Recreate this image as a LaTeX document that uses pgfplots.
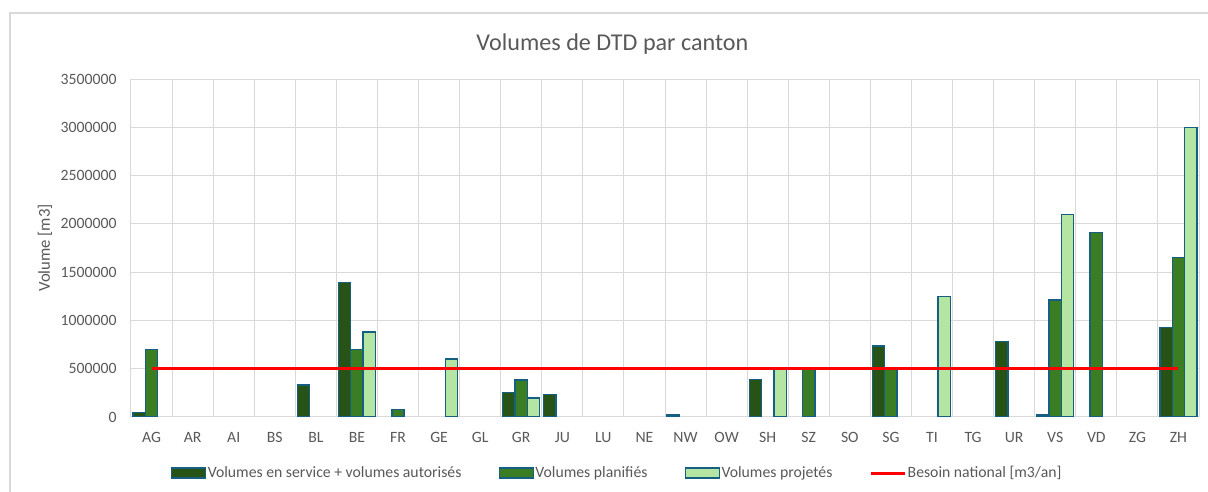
\documentclass[border=0pt]{standalone}
\usepackage{pgfplots}
\pgfplotsset{compat=1.18}
\usepackage{fontspec}
\setmainfont{Carlito}
\definecolor{cdark}{HTML}{275317}
\definecolor{cmed}{HTML}{3B7D23}
\definecolor{clight}{HTML}{B4E5A2}
\definecolor{cedge}{HTML}{156082}
\definecolor{gridc}{HTML}{D9D9D9}
\definecolor{textc}{HTML}{595959}
\pgfplotsset{
  barlegend/.style={legend image code/.code={\draw[##1] (0pt,-3.75pt) rectangle (25.5pt,3.75pt);}},
  linelegend/.style={legend image code/.code={\draw[##1] (0pt,0pt) -- (25pt,0pt);}},
}
\begin{document}
\begin{tikzpicture}
\useasboundingbox (-98.25pt,-56.25pt) rectangle (807.75pt,312.75pt);
\fill[white] (-98.25pt,-56.25pt) rectangle (807.75pt,312.75pt);
\draw[gridc, line width=1pt] (-90.75pt,-70pt) -- (-90.75pt,303pt) -- (830pt,303pt);
\begin{axis}[
  at={(0,0)}, anchor=south west,
  scale only axis, width=801pt, height=253.5pt,
  xmin=-0.5, xmax=25.5, ymin=0, ymax=3500000,
  bar width=0.3,
  xtick={0,...,25},
  xticklabels={AG,AR,AI,BS,BL,BE,FR,GE,GL,GR,JU,LU,NE,NW,OW,SH,SZ,SO,SG,TI,TG,UR,VS,VD,ZG,ZH},
  minor xtick={-0.5,0.5,...,25.5},
  xminorgrids, ymajorgrids,
  major tick length=0pt, minor tick length=0pt,
  ytick={0,500000,...,3500000},
  scaled y ticks=false,
  /pgf/number format/fixed,
  /pgf/number format/1000 sep={},
  /pgf/number format/assume math mode=true,
  grid style={gridc, line width=0.75pt},
  minor grid style={gridc, line width=0.75pt},
  axis line style={gridc, line width=0.75pt},
  tick label style={font=\fontsize{11.8}{14}\selectfont, text=textc},
  yticklabel style={xshift=-7.3pt},
  xticklabel style={anchor=center, yshift=-15.4pt},
  ylabel={Volume [m3]},
  ylabel style={at={(axis description cs:-0.0805,0.5)}, anchor=center, font=\fontsize{12.5}{14}\selectfont, text=textc},
  title={Volumes de DTD par canton},
  title style={at={(axis description cs:0.4508,1.1124)}, anchor=center, yshift=-8pt, font=\fontsize{18.1}{22}\selectfont, text=textc},
  legend columns=4,
  legend style={at={(axis description cs:0.455,-0.166)}, anchor=center, draw=none, fill=none,
    font=\fontsize{11.8}{13}\selectfont, text=textc,
    nodes={inner xsep=1pt, inner ysep=2pt},
    /tikz/every even column/.append style={column sep=27pt}},
]
\addplot[ybar, bar shift=-0.3, fill=cdark, draw=cedge, line width=1pt, barlegend]
  coordinates {(0,45000) (4,330000) (5,1390000) (9,255000) (10,235000) (13,20000) (15,385000) (18,735000) (21,785000) (22,20000) (25,930000)};
\addlegendentry{Volumes en service + volumes autorisés}
\addplot[ybar, bar shift=0, fill=cmed, draw=cedge, line width=1pt, barlegend]
  coordinates {(0,700000) (5,700000) (6,75000) (9,383000) (16,490000) (18,490000) (22,1210000) (23,1910000) (25,1650000)};
\addlegendentry{Volumes planifiés}
\addplot[ybar, bar shift=0.3, fill=clight, draw=cedge, line width=1pt, barlegend]
  coordinates {(5,880000) (7,600000) (9,197000) (15,490000) (19,1250000) (22,2100000) (25,3000000)};
\addlegendentry{Volumes projetés}
\addplot[sharp plot, red, line width=2.4pt, mark=none, linelegend]
  coordinates {(0,500000) (25,500000)};
\addlegendentry{Besoin national [m3/an]}
\end{axis}
\end{tikzpicture}
\end{document}
